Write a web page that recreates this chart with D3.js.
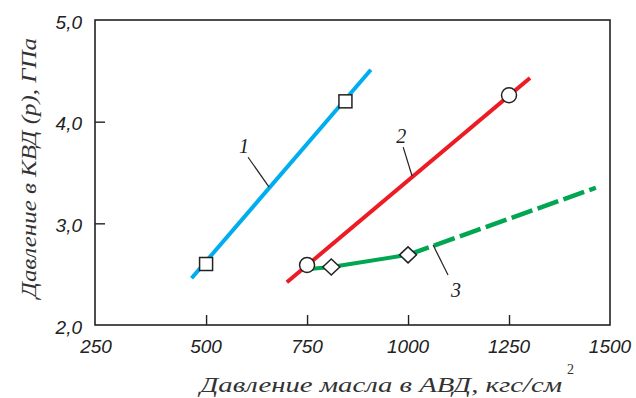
<!DOCTYPE html>
<html><head><meta charset="utf-8">
<script src="https://cdn.jsdelivr.net/npm/d3@7"></script>
<style>html,body{margin:0;padding:0;background:#fff}svg{display:block}</style>
</head><body>
<svg id="chart" width="636" height="398"></svg>
<script>
// ---- data ----
const xTickValues = [500, 750, 1000, 1250, 1500];
const xCornerLabel = "250";
const yTickValues = [2, 3, 4, 5];
const line1 = [[464, 2.46], [908, 4.51]];
const line1Markers = [[500, 2.60], [845, 4.20]];
const line2 = [[700, 2.42], [1302, 4.43]];
const line2Markers = [[750, 2.59], [1250, 4.26]];
const line3Solid = [[755, 2.55], [810, 2.57], [1000, 2.69]];
const line3Dashed = [[1000, 2.69], [1465, 3.35]];
const line3Markers = [[810, 2.57], [1000, 2.69]];
const curveLabels = [
  {text: "1", at: [594, 3.69], from: [604, 3.65], to: [656, 3.357]},
  {text: "2", at: [983, 3.79], from: [988, 3.75], to: [1010, 3.466]},
  {text: "3", at: [1119, 2.275], from: [1062, 2.787], to: [1099, 2.492]}
];
const xTitle = "Давление масла в АВД, кгс/см";
const xTitleSup = "2";
const yTitle = "Давление в КВД (р), ГПа";

// ---- layout ----
const svg = d3.select("#chart");
const L = 95, R = 610, T = 20, B = 325;
const x = d3.scaleLinear().domain([225, 1500]).range([L, R]);
const y = d3.scaleLinear().domain([2, 5]).range([B, T]);
const ink = "#222";
const tickFont = "'Liberation Sans', Arial, sans-serif";
const serif = "'Liberation Serif', 'Times New Roman', serif";

// ticks (inward)
const xAxis = d3.axisTop(x).tickValues(xTickValues.filter(v => v < 1500)).tickSize(10).tickFormat("");
svg.append("g").attr("transform", `translate(0,${B})`).call(xAxis)
  .call(g => g.select(".domain").remove())
  .call(g => g.selectAll("line").attr("stroke", ink).attr("stroke-width", 1.4));
const yAxis = d3.axisRight(y).tickValues([3, 4]).tickSize(10).tickFormat("");
svg.append("g").attr("transform", `translate(${L},0)`).call(yAxis)
  .call(g => g.select(".domain").remove())
  .call(g => g.selectAll("line").attr("stroke", ink).attr("stroke-width", 1.4));

// frame
svg.append("rect").attr("x", L).attr("y", T).attr("width", R - L).attr("height", B - T)
  .attr("fill", "none").attr("stroke", ink).attr("stroke-width", 1.6);

// tick labels
const xl = svg.append("g").attr("font-family", tickFont).attr("font-style", "italic")
  .attr("font-size", 19).attr("fill", ink).attr("text-anchor", "middle");
xl.selectAll("text.t").data(xTickValues).join("text").attr("class", "t")
  .attr("x", d => x(d)).attr("y", B + 28).text(d => d);
xl.append("text").attr("x", x(x.domain()[0]) + 1).attr("y", B + 28).text(xCornerLabel);

svg.append("g").attr("font-family", tickFont).attr("font-style", "italic")
  .attr("font-size", 19).attr("fill", ink).attr("text-anchor", "end")
  .selectAll("text").data(yTickValues).join("text")
  .attr("x", L - 13).attr("y", d => y(d) + 8.5)
  .text(d => d3.format(".1f")(d).replace(".", ","));

// lines
const lineGen = d3.line().x(d => x(d[0])).y(d => y(d[1]));
const plot = svg.append("g").attr("fill", "none").attr("stroke-width", 4);
plot.append("path").datum(line1).attr("d", lineGen).attr("stroke", "#00AEEF");
plot.append("path").datum(line2).attr("d", lineGen).attr("stroke", "#ED1C24");
plot.append("path").datum(line3Solid).attr("d", lineGen).attr("stroke", "#00A651");
plot.append("path").datum(line3Dashed).attr("d", lineGen).attr("stroke", "#00A651")
  .attr("stroke-width", 4.5).attr("stroke-dasharray", "22,5.5");

// markers
const mk = svg.append("g").attr("fill", "#fff").attr("stroke", ink).attr("stroke-width", 1.5);
mk.selectAll("rect").data(line1Markers).join("rect")
  .attr("x", d => x(d[0]) - 6.5).attr("y", d => y(d[1]) - 6.5).attr("width", 13).attr("height", 13);
mk.selectAll("circle").data(line2Markers).join("circle")
  .attr("cx", d => x(d[0])).attr("cy", d => y(d[1])).attr("r", 7.5);
mk.selectAll("path").data(line3Markers).join("path")
  .attr("d", d => { const cx = x(d[0]), cy = y(d[1]);
    return `M${cx},${cy - 8}L${cx + 8.5},${cy}L${cx},${cy + 8}L${cx - 8.5},${cy}Z`; });

// curve labels with leaders
const ann = svg.append("g");
ann.selectAll("line").data(curveLabels).join("line")
  .attr("x1", d => x(d.from[0])).attr("y1", d => y(d.from[1]))
  .attr("x2", d => x(d.to[0])).attr("y2", d => y(d.to[1]))
  .attr("stroke", ink).attr("stroke-width", 1.2);
ann.selectAll("text").data(curveLabels).join("text")
  .attr("x", d => x(d.at[0])).attr("y", d => y(d.at[1]))
  .attr("font-family", serif).attr("font-style", "italic").attr("font-size", 20)
  .attr("text-anchor", "middle").attr("fill", ink).text(d => d.text);

// axis titles
svg.append("text").attr("x", 200).attr("y", 392)
  .attr("font-family", serif).attr("font-style", "italic").attr("font-size", 22)
  .attr("textLength", 362).attr("lengthAdjust", "spacingAndGlyphs")
  .attr("fill", "#333").text(xTitle);
svg.append("text").attr("x", 567).attr("y", 374)
  .attr("font-family", serif).attr("font-size", 14)
  .attr("fill", "#333").text(xTitleSup);

svg.append("text").attr("transform", `translate(36,298) rotate(-90)`)
  .attr("font-family", serif).attr("font-style", "italic").attr("font-size", 22)
  .attr("textLength", 260).attr("lengthAdjust", "spacingAndGlyphs")
  .attr("fill", "#333").text(yTitle);
</script>
</body></html>
